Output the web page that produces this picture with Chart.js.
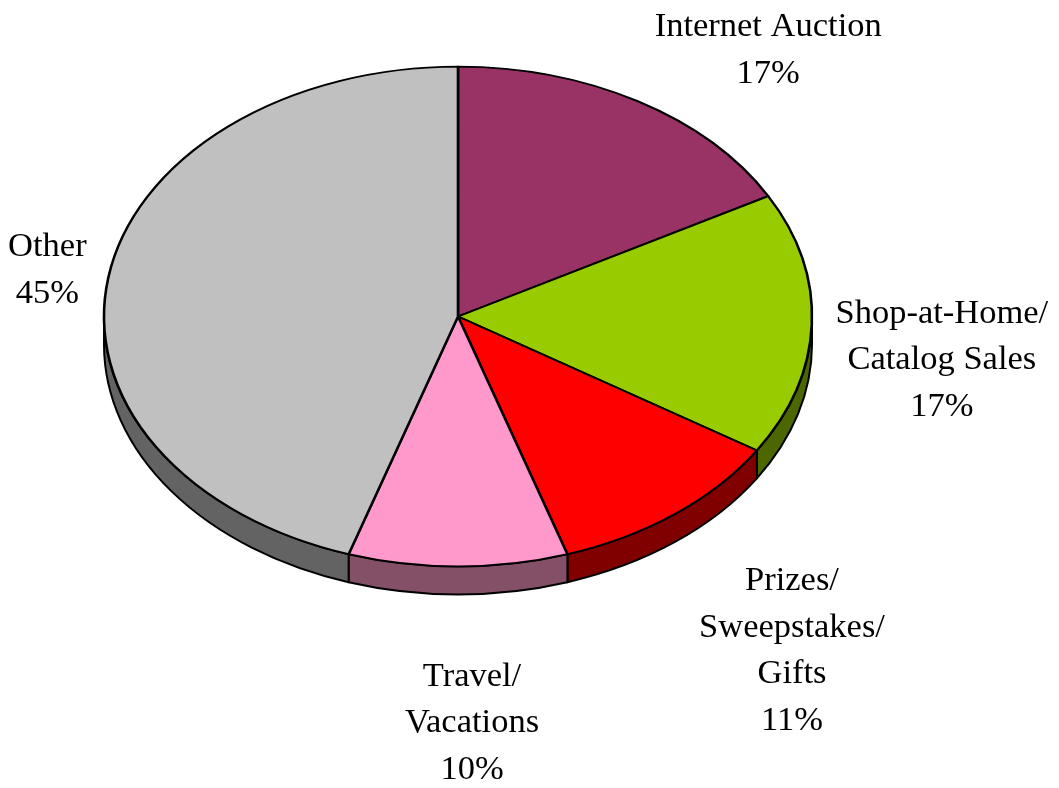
<!DOCTYPE html>
<html>
<head>
<meta charset="utf-8">
<script src="https://cdn.jsdelivr.net/npm/chart.js@4"></script>
<style>
    html, body { margin: 0; padding: 0; background: #fff; }
    #wrap { width: 1059px; height: 788px; }
</style>
</head>
<body>
<div id="wrap"><canvas id="chart_canvas" width="1059" height="788"></canvas></div>
<script>
/* 3D-looking pie, drawn as a flat Chart.js pie squashed into an ellipse */

const categories = [ 'Internet Auction', 'Shop-at-Home/ Catalog Sales', 'Prizes/ Sweepstakes/ Gifts', 'Travel/ Vacations', 'Other' ];
const label_lines = [
    [ 'Internet Auction' ],
    [ 'Shop-at-Home/', 'Catalog Sales' ],
    [ 'Prizes/', 'Sweepstakes/', 'Gifts' ],
    [ 'Travel/', 'Vacations' ],
    [ 'Other' ]
];
const percents = [ 17, 17, 11, 10, 45 ];

const top_colours  = [ '#993366', '#99cc00', '#ff0000', '#ff99cc', '#c0c0c0' ];
const side_colours = [ '#4c1933', '#4c6600', '#800000', '#845068', '#636363' ];

// tilt settings
const tilt = 0.706;
const depth = 28;
const face_cy = 316.5;

// where each label block sits, relative to the rim point at the slice middle
const label_offsets = [ [ 130, -51 ], [ 130, 8 ], [ 117, 109 ], [ 14, 129 ], [ -61, -7 ] ];

function face_centre ( chart )
{
    const arc = chart.getDatasetMeta(0).data[0];
    return { x: arc.x, y: arc.y, r: arc.outerRadius };
}

const tilt_plugin =
{
    id: 'tilt',
    beforeDatasetsDraw: function ( chart )
    {
        const ctx = chart.ctx;
        const c = face_centre(chart);
        const rx = c.r, ry = c.r * tilt;
        const arcs = chart.getDatasetMeta(0).data;

        // side walls, only the front half shows
        for ( let ii = 0; ii < arcs.length; ++ii )
        {
            const a1 = Math.max(arcs[ii].startAngle, 0);
            const a2 = Math.min(arcs[ii].endAngle, Math.PI);
            if ( a2 <= a1 ) continue;
            ctx.save();
            ctx.beginPath();
            ctx.ellipse(c.x, face_cy, rx, ry, 0, a1, a2, false);
            ctx.ellipse(c.x, face_cy + depth, rx, ry, 0, a2, a1, true);
            ctx.closePath();
            ctx.fillStyle = side_colours[ii];
            ctx.fill();
            ctx.lineWidth = 2;
            ctx.lineJoin = 'round';
            ctx.strokeStyle = '#000';
            ctx.stroke();
            ctx.restore();
        }

        // squash the flat pie vertically
        ctx.save();
        ctx.translate(0, face_cy);
        ctx.scale(1, tilt);
        ctx.translate(0, -c.y);
    },
    afterDatasetsDraw: function ( chart )
    {
        chart.ctx.restore();
    },
    afterDraw: function ( chart )
    {
        const ctx = chart.ctx;
        const c = face_centre(chart);
        const arcs = chart.getDatasetMeta(0).data;
        const line_h = 46.5;

        ctx.save();
        ctx.font = '34.5px "Liberation Serif", "Times New Roman", serif';
        ctx.fillStyle = '#000';
        ctx.textAlign = 'center';
        ctx.textBaseline = 'middle';

        for ( let ii = 0; ii < arcs.length; ++ii )
        {
            const mid = (arcs[ii].startAngle + arcs[ii].endAngle) / 2;
            let ax = c.x + c.r * Math.cos(mid);
            let ay = face_cy + c.r * tilt * Math.sin(mid);
            if ( Math.sin(mid) > 0 ) ay += depth;
            ax += label_offsets[ii][0];
            ay += label_offsets[ii][1];

            const lines = label_lines[ii].concat([ percents[ii] + '%' ]);
            const y0 = ay - (lines.length - 1) * line_h / 2;
            for ( let jj = 0; jj < lines.length; ++jj )
            {
                ctx.fillText(lines[jj], ax, y0 + jj * line_h);
            }
        }
        ctx.restore();
    }
};

const data =
{
    labels: categories,
    datasets: [{
        data: percents,
        backgroundColor: top_colours,
        borderColor: '#000',
        borderWidth: 2.6,
        borderJoinStyle: 'round'
    }]
};

const options =
{
    responsive: false,
    animation: false,
    radius: 354,
    layout: { padding: { left: 104, right: 247, top: 40, bottom: 40 } },
    plugins:
    {
        legend: { display: false },
        tooltip: { enabled: false }
    }
};

const config = { type: 'pie', data: data, options: options, plugins: [ tilt_plugin ] };
const chart = new Chart( document.getElementById('chart_canvas'), config );
</script>
</body>
</html>
